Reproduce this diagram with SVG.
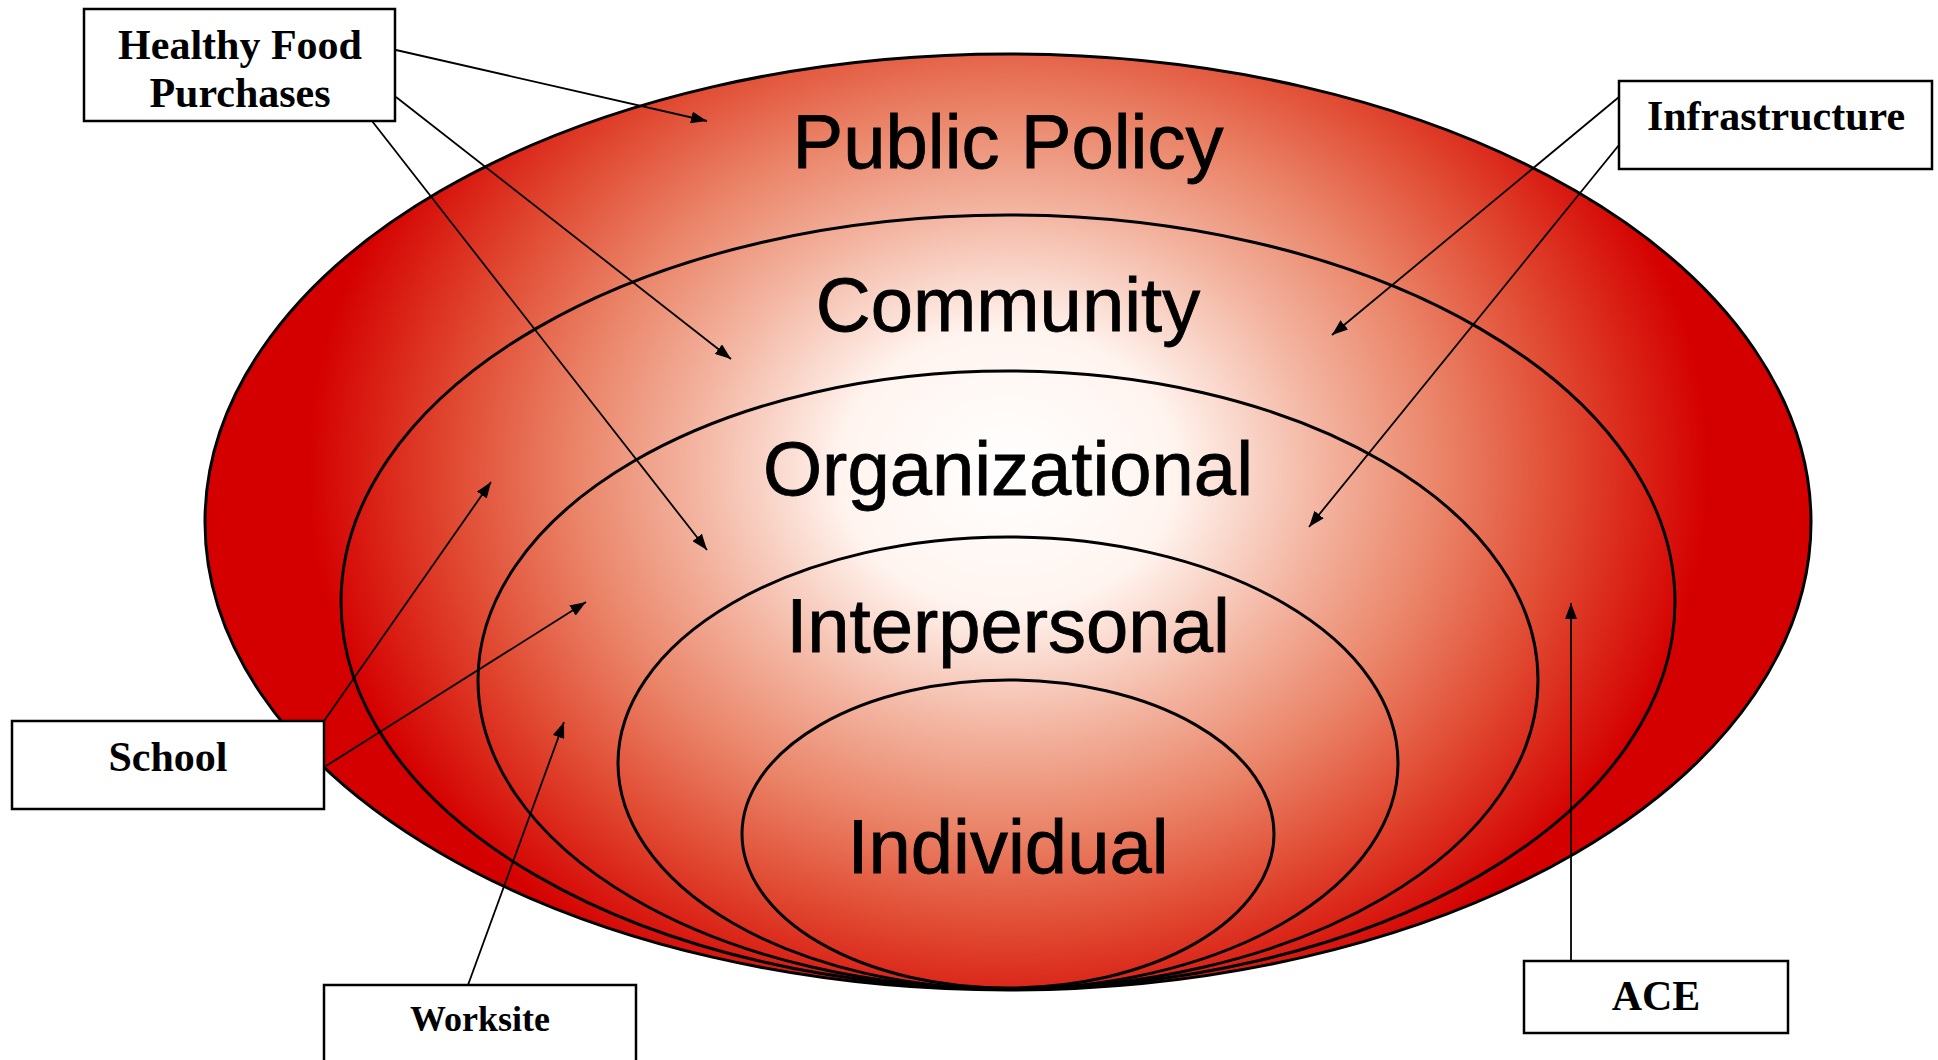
<svg xmlns="http://www.w3.org/2000/svg" width="1938" height="1060" viewBox="0 0 1938 1060">
<style>
.ring{stroke:#000;stroke-width:3;fill:url(#g)}
.lbl{font-family:"Liberation Sans",Arial,sans-serif;font-size:76px;fill:#000;stroke:#000;stroke-width:0.8;text-anchor:middle}
.box rect{fill:#fff;stroke:#000;stroke-width:2.5}
.box text{font-family:"Liberation Serif","Times New Roman",serif;font-weight:bold;font-size:42px;fill:#000;text-anchor:middle}
.con line{stroke:#000;stroke-width:1.8;marker-end:url(#ah)}
</style>
<defs>
<radialGradient id="g" gradientUnits="userSpaceOnUse" cx="1008" cy="470" r="700" gradientTransform="translate(1008 470) scale(1 0.83) translate(-1008 -470)">
<stop offset="0" stop-color="#ffffff"/>
<stop offset="0.24" stop-color="#fff4ef"/>
<stop offset="0.45" stop-color="#f3b4a0"/>
<stop offset="0.62" stop-color="#ea8468"/>
<stop offset="0.8" stop-color="#e04830"/>
<stop offset="1" stop-color="#d40000"/>
</radialGradient>
<marker id="ah" viewBox="0 0 16 12" refX="16" refY="6" markerWidth="16" markerHeight="12" markerUnits="userSpaceOnUse" orient="auto">
<path d="M0,0 L16,6 L0,12 z" fill="#000"/>
</marker>
</defs>
<rect width="1938" height="1060" fill="#fff"/>
<g id="public-policy">
<ellipse class="ring" cx="1008" cy="522" rx="803" ry="468"/>
<text class="lbl" x="1008" y="168">Public Policy</text>
</g>
<g id="community">
<ellipse class="ring" cx="1008" cy="602" rx="667" ry="387"/>
<text class="lbl" x="1008" y="331">Community</text>
</g>
<g id="organizational">
<ellipse class="ring" cx="1008" cy="680" rx="530" ry="309"/>
<text class="lbl" x="1008" y="495">Organizational</text>
</g>
<g id="interpersonal">
<ellipse class="ring" cx="1008" cy="763" rx="390" ry="226"/>
<text class="lbl" x="1008" y="652">Interpersonal</text>
</g>
<g id="individual">
<ellipse class="ring" cx="1008" cy="834" rx="266" ry="154"/>
<text class="lbl" x="1008" y="873">Individual</text>
</g>
<g id="connectors" class="con">
<line x1="396" y1="50" x2="707" y2="121"/>
<line x1="396" y1="97" x2="731" y2="359"/>
<line x1="372" y1="121" x2="707" y2="550"/>
<line x1="1619" y1="97" x2="1332" y2="335"/>
<line x1="1619" y1="145" x2="1309" y2="527"/>
<line x1="324" y1="721" x2="491" y2="482"/>
<line x1="326" y1="766" x2="586" y2="602"/>
<line x1="468" y1="985" x2="564" y2="722"/>
<line x1="1571" y1="961" x2="1571" y2="603"/>
</g>
<g id="healthy-food" class="box">
<rect x="84" y="9" width="311" height="112"/>
<text x="240" y="59">Healthy Food</text>
<text x="240" y="107">Purchases</text>
</g>
<g id="infrastructure" class="box">
<rect x="1619" y="81" width="313" height="88"/>
<text x="1776" y="130">Infrastructure</text>
</g>
<g id="school" class="box">
<rect x="12" y="721" width="312" height="88"/>
<text x="168" y="771">School</text>
</g>
<g id="worksite" class="box">
<rect x="324" y="985" width="312" height="100"/>
<text x="480" y="1031" style="font-size:36px">Worksite</text>
</g>
<g id="ace" class="box">
<rect x="1524" y="961" width="264" height="72"/>
<text x="1656" y="1010">ACE</text>
</g>
</svg>
